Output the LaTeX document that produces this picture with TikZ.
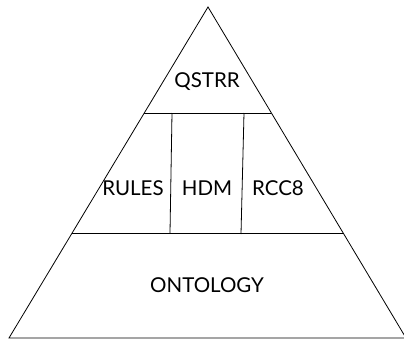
\documentclass[tikz,border=0pt]{standalone}
\usepackage{fontspec}
\setmainfont{Lato}
\usetikzlibrary{calc}

\begin{document}
\begin{tikzpicture}[x=1pt,y=-1pt,line width=0.8pt,
  layer/.style={font=\fontsize{20.5}{24}\selectfont}]
\useasboundingbox (0,0) rectangle (404,340);
\clip (0,0) rectangle (404,340);

\coordinate (top) at (208,7);
\coordinate (left) at (9,338);
\coordinate (right) at (406,338);

\draw (top) -- (left) -- (right) -- cycle;

% layer borders
\coordinate (l1) at ($(top)!0.32!(left)$);
\coordinate (r1) at ($(top)!0.32!(right)$);
\coordinate (l2) at ($(top)!0.683!(left)$);
\coordinate (r2) at ($(top)!0.683!(right)$);
\draw (l1) -- (r1);
\draw (l2) -- (r2);

\coordinate (a1) at (172,113);
\coordinate (a2) at (170,233);
\coordinate (b1) at (244,113);
\coordinate (b2) at (241,234);
\draw (a1) -- (a2);
\draw (b1) -- (b2);

\node[layer] (qstrr) at (207,82) {QSTRR};
\node[layer] (rules) at (133,188) {RULES};
\node[layer] (hdm) at (207,188) {HDM};
\node[layer] (rcc) at (278,188) {RCC8};
\node[layer] (onto) at (207,285) {ONTOLOGY};
\end{tikzpicture}
\end{document}
